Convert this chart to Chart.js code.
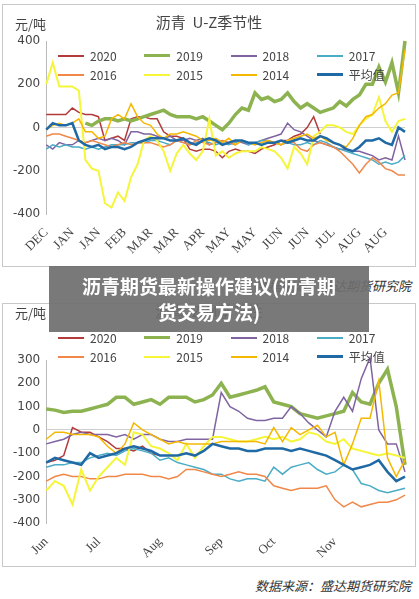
<!DOCTYPE html>
<html lang="zh">
<head>
<meta charset="utf-8">
<script src="https://cdn.jsdelivr.net/npm/chart.js"></script>
<style>
  body { margin: 0; width: 419px; height: 599px; background: #fff; font-family: 'Noto Sans CJK SC', sans-serif; position: relative; overflow: hidden; }
  .box { position: absolute; left: 2px; width: 414px; border: 1px solid #c8c8c8; box-sizing: border-box; }
  .box canvas { position: absolute; left: 0; top: 0; }
  .unit { position: absolute; left: 12px; font-size: 13px; color: #444; }
  .ctitle { position: absolute; left: 0; width: 100%; text-align: center; font-size: 15px; color: #444; }
  .legend { position: absolute; left: 55px; width: 345px; display: grid; grid-template-columns: repeat(4, 1fr); row-gap: 2px; font-size: 12px; color: #444; }
  .legend div { display: flex; align-items: center; }
  .legend span { display: inline-block; width: 26px; margin-right: 6px; }
  .src { position: absolute; right: 8px; font-size: 13px; font-style: italic; color: #333; }
  .banner { position: absolute; left: 49px; top: 266px; width: 320px; height: 66px; background: rgba(110,110,110,0.92); color: #fff; font-weight: bold; font-size: 19px; line-height: 26px; text-align: center; padding-top: 7px; box-sizing: border-box; }
</style>
</head>
<body>
<div class="box" id="box1" style="top:4px;height:263px;">
  <canvas id="c1"></canvas>
  <div class="unit" style="top:9px;">元/吨</div>
  <div class="ctitle" style="top:6px;">沥青&nbsp; U-Z季节性</div>
  <div class="legend" id="lg1" style="top:42px;"></div>
</div>
<div class="src" style="top:276px;">数据来源：盛达期货研究院</div>
<div class="box" id="box2" style="top:303px;height:264px;">
  <canvas id="c2"></canvas>
  <div class="unit" style="top:-1px;">元/吨</div>
  <div class="ctitle" style="top:-4px;">沥青&nbsp; Z-M季节性</div>
  <div class="legend" id="lg2" style="top:25px;"></div>
</div>
<div class="src" style="top:576px;">数据来源：盛达期货研究院</div>
<div class="banner">沥青期货最新操作建议(沥青期<br>货交易方法)</div>
<script>
const seriesNames = ['2020', '2019', '2018', '2017', '2016', '2015', '2014', '平均值'];
const seriesColors = ['#b33b3b', '#8db350', '#8064a2', '#4bacc6', '#f0884a', '#f5f53a', '#f5b800', '#1f6aa5'];
const seriesWidths = [1.5, 3.5, 1.5, 1.5, 1.5, 2, 1.5, 2.5];

// U-Z chart
const uzTicks = ['DEC','JAN','JAN','FEB','MAR','MAR','APR','MAY','MAY','JUN','JUN','JUL','AUG','AUG'];
const uz2020 = [60,60,60,60,90,70,60,60,50,-60,-50,-40,-60,40,50,50,40,40,-20,-40,-40,-50,-100,-110,-100,-100,-110,-140,-110,-100,-110,-110,-120,-100,-90,-80,-60,-60,-40,-30,0,50,-30];
const uz2019 = [null,null,null,null,null,null,20,10,30,40,40,30,40,30,40,50,60,70,80,60,50,50,50,40,50,30,10,-10,20,60,90,80,160,130,140,120,130,160,120,90,110,90,70,80,90,120,100,130,150,200,200,280,210,300,160,400];
const uz2018 = [-80,-100,-70,-80,-80,-60,-70,-60,-50,-60,-50,-60,-80,-20,-20,-30,-30,-40,-50,-40,-60,-60,-50,-60,-50,-80,-70,-60,-70,-60,-70,-80,-70,-60,-50,-40,-30,20,-10,-20,-40,-60,-70,-80,-90,-100,-100,-110,-110,-120,-130,-150,-140,-150,-40,-150];
const uz2017 = [-100,-80,-90,-80,-90,-90,-100,-90,-100,-90,-80,-80,-80,-70,-70,-70,-60,-60,-70,-80,-60,-70,-80,-70,-60,-70,-80,-70,-80,-70,-60,-80,-70,-60,-60,-70,-80,-70,-80,-80,-70,-80,-60,-70,-90,-100,-110,-120,-130,-140,-150,-170,-160,-170,-160,-130];
const uz2016 = [-40,-30,-30,-40,-50,-60,-70,-60,-70,-80,-90,-80,-70,-80,-70,-70,-70,-80,-90,-80,-60,-70,-80,-60,-70,-80,-70,-60,-70,-80,-60,-70,-80,-70,-60,-70,-80,-60,-70,-100,-110,-80,-70,-80,-90,-110,-140,-170,-210,-170,-140,-160,-190,-200,-220,-220];
const uz2015 = [200,300,190,190,190,170,-150,-190,-200,-350,-370,-300,-340,-230,-170,-60,-40,-60,-110,-200,-120,-80,-120,-150,-110,40,-130,-110,-140,-120,-110,-110,-110,-90,-100,-110,-140,-190,-90,-120,-170,-40,-20,10,10,0,-20,-30,10,40,60,140,30,-20,30,40];
const uz2014 = [-10,10,20,10,20,40,-20,-20,-50,-40,40,60,40,110,50,20,10,-30,-50,-30,-30,-20,-30,-40,-60,-60,-50,-70,-50,-80,-60,-70,-80,-70,-60,-70,-80,-60,-50,-40,-30,-50,-40,-60,-70,-80,-90,-50,10,50,60,90,110,150,160,360];
const uzAvg = [-10,20,10,10,20,-60,-80,-90,-80,-100,-90,-90,-100,-90,-70,-60,-50,-50,-50,-60,-60,-50,-70,-80,-60,-50,-60,-80,-70,-60,-60,-70,-70,-80,-70,-70,-60,-70,-60,-50,-60,-60,-40,-50,-70,-80,-100,-110,-90,-60,-60,-50,-70,-80,0,-20];

// Z-M chart
const zmTicks = ['Jun','Jul','Aug','Sep','Oct','Nov'];
const zmTickAt = [0, 6, 13, 20, 26, 33];
const zm2020 = [-140,-130,-110,10,-10,-10,-30,-50,-80,-80,-90,-70,-100,-110];
const zm2019 = [90,85,75,80,80,90,100,110,140,140,110,120,130,110,140,140,140,120,130,150,200,140,150,160,170,185,120,110,100,70,60,50,60,70,80,160,120,110,200,260,100,-150];
const zm2018 = [-60,-50,-40,-20,-10,-20,-20,-20,-30,-20,-40,-20,-20,-40,-50,-50,-40,-40,-40,-40,160,100,80,50,40,40,50,50,100,70,30,0,-30,80,140,80,220,310,0,-60,-60,-180];
const zm2017 = [-160,-150,-150,-140,-140,-120,-110,-100,-110,-90,-80,-90,-100,-130,-120,-140,-150,-160,-170,-190,-190,-210,-220,-210,-210,-220,-160,-190,-160,-150,-140,-170,-190,-180,-150,-170,-230,-240,-260,-270,-260,-250];
const zm2016 = [-220,-200,-190,-200,-200,-210,-210,-200,-200,-190,-190,-190,-200,-200,-210,-200,-170,-170,-180,-190,-200,-190,-180,-190,-190,-200,-240,-250,-260,-250,-250,-250,-240,-300,-330,-310,-330,-320,-310,-310,-300,-280];
const zm2015 = [-260,-220,-240,-320,-170,-260,-200,-160,-120,-150,-10,-20,-70,-80,-100,-130,-60,-120,-70,-30,-30,-40,-50,-50,-40,-30,-40,-30,-50,-40,-10,-20,-50,-60,-40,-80,-90,-100,-110,-100,-110,-120];
const zm2014 = [-40,-10,-10,-20,-20,-20,-30,-70,-100,-60,30,0,-20,-40,-60,-50,-60,-60,-60,-60,-50,-50,-50,-50,-50,-60,10,-50,10,-20,0,20,-30,-10,-150,-60,50,50,210,-120,-200,-130];
const zmAvg = [-140,-120,-130,-140,-150,-100,-120,-110,-100,-80,-70,-80,-90,-110,-110,-110,-100,-110,-90,-60,-70,-80,-80,-90,-90,-80,-80,-80,-90,-80,-90,-100,-110,-130,-150,-170,-160,-150,-130,-180,-220,-200];

function buildLegend(id) {
  const el = document.getElementById(id);
  seriesNames.forEach((n, i) => {
    const d = document.createElement('div');
    d.innerHTML = `<span style="height:${Math.max(2, seriesWidths[i])}px;background:${seriesColors[i]}"></span>${n}`;
    el.appendChild(d);
  });
}

function makeChart(canvasId, boxId, labels, series, tickFn, yMin, yMax, pad) {
  const box = document.getElementById(boxId);
  const cv = document.getElementById(canvasId);
  cv.width = box.clientWidth; cv.height = box.clientHeight;
  cv.style.width = box.clientWidth + 'px'; cv.style.height = box.clientHeight + 'px';
  return new Chart(cv, {
    type: 'line',
    data: {
      labels: labels,
      datasets: series.map((s, i) => ({
        label: seriesNames[i], data: s, borderColor: seriesColors[i],
        borderWidth: seriesWidths[i], pointRadius: 0, tension: 0, clip: false, spanGaps: false
      })).reverse()
    },
    options: {
      responsive: false, animation: false,
      layout: { padding: pad },
      plugins: { legend: { display: false }, tooltip: { enabled: false } },
      scales: {
        x: {
          grid: { display: false }, border: { display: false },
          ticks: {
            autoSkip: false, maxRotation: 45, minRotation: 45, color: '#444',
            font: { family: 'Liberation Serif', size: 13 },
            callback: tickFn
          }
        },
        y: {
          min: yMin, max: yMax,
          border: { color: '#bbb' },
          grid: { drawTicks: false, color: c => c.tick.value === 0 ? '#cfcfcf' : 'transparent' },
          ticks: { stepSize: yMax - yMin > 700 ? 200 : 100, color: '#444', padding: 6, font: { family: 'DejaVu Sans', size: 12 } }
        }
      }
    }
  });
}

buildLegend('lg1');
buildLegend('lg2');

const uzLabels = uzAvg.map((v, i) => i % 4 === 0 ? uzTicks[i / 4] : '');
makeChart('c1', 'box1', uzLabels, [uz2020, uz2019, uz2018, uz2017, uz2016, uz2015, uz2014, uzAvg],
  function (v, i) { return uzLabels[i] || null; }, -400, 400, { top: 36, right: 10, left: 4, bottom: 6 });

const zmLabels = zmAvg.map((v, i) => { const k = zmTickAt.indexOf(i); return k >= 0 ? zmTicks[k] : ''; });
makeChart('c2', 'box2', zmLabels, [zm2020, zm2019, zm2018, zm2017, zm2016, zm2015, zm2014, zmAvg],
  function (v, i) { return zmLabels[i] || null; }, -400, 300, { top: 56, right: 10, left: 4, bottom: 2 });
</script>
</body>
</html>
